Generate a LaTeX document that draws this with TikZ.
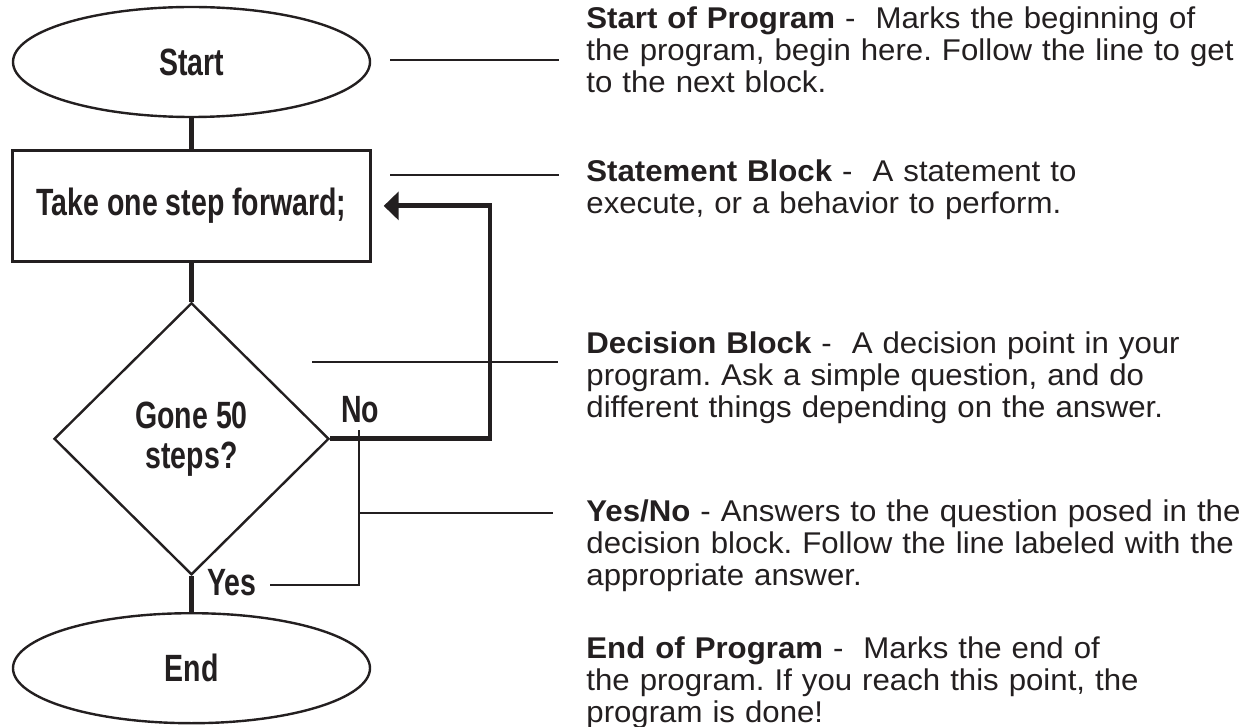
\documentclass[tikz,border=0pt]{standalone}
\usepackage{fontspec}
\setmainfont{Liberation Sans}[FakeStretch=1.04]
\newfontfamily\flowfont{Liberation Sans}[FakeStretch=0.75]
\usetikzlibrary{shapes.geometric, arrows.meta, positioning}
\definecolor{ink}{RGB}{35, 31, 32}
\frenchspacing

\begin{document}
\begin{tikzpicture}[x=0.5pt, y=-0.5pt, color=ink,
    flowtext/.style={font=\flowfont\bfseries\fontsize{19}{20}\selectfont},
    terminal/.style={draw=ink, line width=1.2pt, ellipse, minimum width=178.5pt, minimum height=55pt, inner sep=0pt, flowtext},
    statement/.style={draw=ink, line width=1.2pt, rectangle, minimum width=179pt, minimum height=55.5pt, inner sep=0pt, flowtext},
    decision/.style={draw=ink, line width=1.2pt, diamond, minimum width=137.5pt, minimum height=136pt, inner sep=0pt, align=center, flowtext},
    answer/.style={inner sep=0pt, flowtext},
    flowline/.style={draw=ink, line width=2.4pt},
    backline/.style={draw=ink, line width=2.4pt, -{Triangle[length=7.5pt, width=14pt]}, shorten >=6pt},
    leader/.style={draw=ink, line width=1pt},
    info/.style={anchor=base west, inner sep=0pt, text width=360pt, align=left, font=\fontsize{15}{16}\selectfont}]
  \useasboundingbox (0,0) rectangle (1248,727);

  % flowchart
  \node[terminal] (start) at (191.5,62) {Start};
  \node[statement, below=15.5pt of start] (stmt) {Take one step forward;};
  \node[decision, below=19.5pt of stmt] (dec) {Gone 50\\steps?};
  \node[terminal, below=18pt of dec] (end) {End};
  \node[answer] (no) at (360,410) {No};
  \node[answer] (yes) at (232,583) {Yes};

  \draw[flowline] (start.south) -- (stmt.north);
  \draw[flowline] (stmt.south) -- (dec.north);
  \draw[flowline] (dec.south) -- (end.north);
  \coordinate (turn) at (490,434);
  \draw[backline] (dec.east) -- (dec.east -| turn) |- (stmt.east);

  % descriptions
  \node[info] (infoStart) at (586,29) {\textbf{Start of Program} -~ Marks the beginning of\\the program, begin here. Follow the line to get\\to the next block.};
  \node[info] (infoStmt) at (586,182) {\textbf{Statement Block} -~ A statement to\\execute, or a behavior to perform.};
  \node[info] (infoDec) at (586,354) {\textbf{Decision Block} -~ A decision point in your\\program. Ask a simple question, and do\\different things depending on the answer.};
  \node[info] (infoAns) at (586,521) {\textbf{Yes/No} - Answers to the question posed in the\\decision block. Follow the line labeled with the\\appropriate answer.};
  \node[info] (infoEnd) at (586,658) {\textbf{End of Program} -~ Marks the end of\\the program. If you reach this point, the\\program is done!};

  % leader lines
  \coordinate (l1a) at (390,60);  \coordinate (l1b) at (559,60);
  \coordinate (l2a) at (390,175); \coordinate (l2b) at (559,175);
  \coordinate (l3a) at (312,362); \coordinate (l3b) at (558,362);
  \coordinate (l4a) at (270,585); \coordinate (l4b) at (359,430);
  \coordinate (l4c) at (359,513); \coordinate (l4d) at (553,513);
  \draw[leader] (l1a) -- (l1b);
  \draw[leader] (l2a) -- (l2b);
  \draw[leader] (l3a) -- (l3b);
  \draw[leader] (l4a) -| (l4b);
  \draw[leader] (l4c) -- (l4d);
\end{tikzpicture}
\end{document}
